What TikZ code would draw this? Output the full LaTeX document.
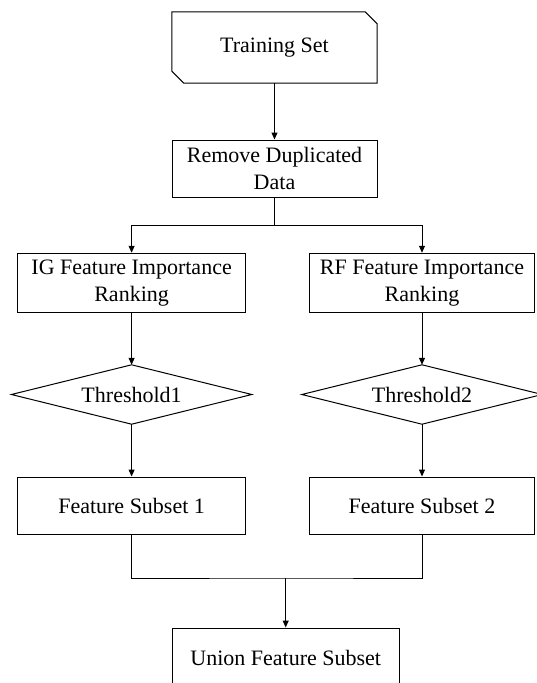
\documentclass[tikz,border=0pt]{standalone}
\usepackage{fontspec}
\setmainfont{Liberation Serif}
\usetikzlibrary{arrows.meta}
\begin{document}
\begin{tikzpicture}[x=1pt,y=-1pt,
  every node/.style={font=\fontsize{22}{27}\selectfont, align=center, inner sep=0pt},
  boxnode/.style={draw, line width=1pt, rectangle, minimum height=57pt},
  ghost/.style={draw=none, rectangle},
  edge/.style={line width=1pt},
  flow/.style={edge, -{Triangle[length=7pt,width=6pt]}}]
\useasboundingbox (0,0) rectangle (536,683);

% start terminal with two cut corners
\node[ghost, minimum width=205pt, minimum height=71pt] (train) at (274.5,47.5) {Training Set};
\draw[edge] (train.north west) -- ([xshift=-12pt]train.north east)
  -- ([yshift=-12pt]train.north east) -- (train.south east)
  -- ([xshift=12pt]train.south west) -- ([yshift=12pt]train.south west) -- cycle;

\node[boxnode, minimum width=205pt] (dedup) at (274.5,168.5) {Remove Duplicated\\Data};

% the two ranking branches
\node[boxnode, minimum width=227.7pt, minimum height=59.5pt] (ig) at (131.6,283) {IG Feature Importance\\Ranking};
\node[boxnode, minimum width=224.6pt, minimum height=59.5pt] (rf) at (422,283) {RF Feature Importance\\Ranking};

\node[ghost, minimum width=240pt, minimum height=59pt] (th1) at (131.6,394.5) {Threshold1};
\node[ghost, minimum width=240pt, minimum height=59pt] (th2) at (422,394.5) {Threshold2};
\foreach \d in {th1,th2}
  \draw[edge] (\d.north) -- (\d.east) -- (\d.south) -- (\d.west) -- cycle;

\node[boxnode, minimum width=227.7pt] (fs1) at (131.6,505.5) {Feature Subset 1};
\node[boxnode, minimum width=224.6pt] (fs2) at (422,505.5) {Feature Subset 2};

\node[boxnode, minimum width=226.7pt, minimum height=60pt] (union) at (285.7,658) {Union Feature Subset};

% junction points
\coordinate (split) at (274.5,225);
\coordinate (join) at (285.7,578);

% connectors
\draw[flow] (train.south) -- (dedup.north);
\draw[edge] (dedup.south) -- (split);
\draw[flow] (split) -| (ig.north);
\draw[flow] (split) -| (rf.north);
\draw[flow] (ig.south) -- (th1.north);
\draw[flow] (rf.south) -- (th2.north);
\draw[flow] (th1.south) -- (fs1.north);
\draw[flow] (th2.south) -- (fs2.north);
\draw[edge] (fs1.south) |- (join) -| (fs2.south);
\draw[flow] (join) -- (union.north);
\end{tikzpicture}
\end{document}
